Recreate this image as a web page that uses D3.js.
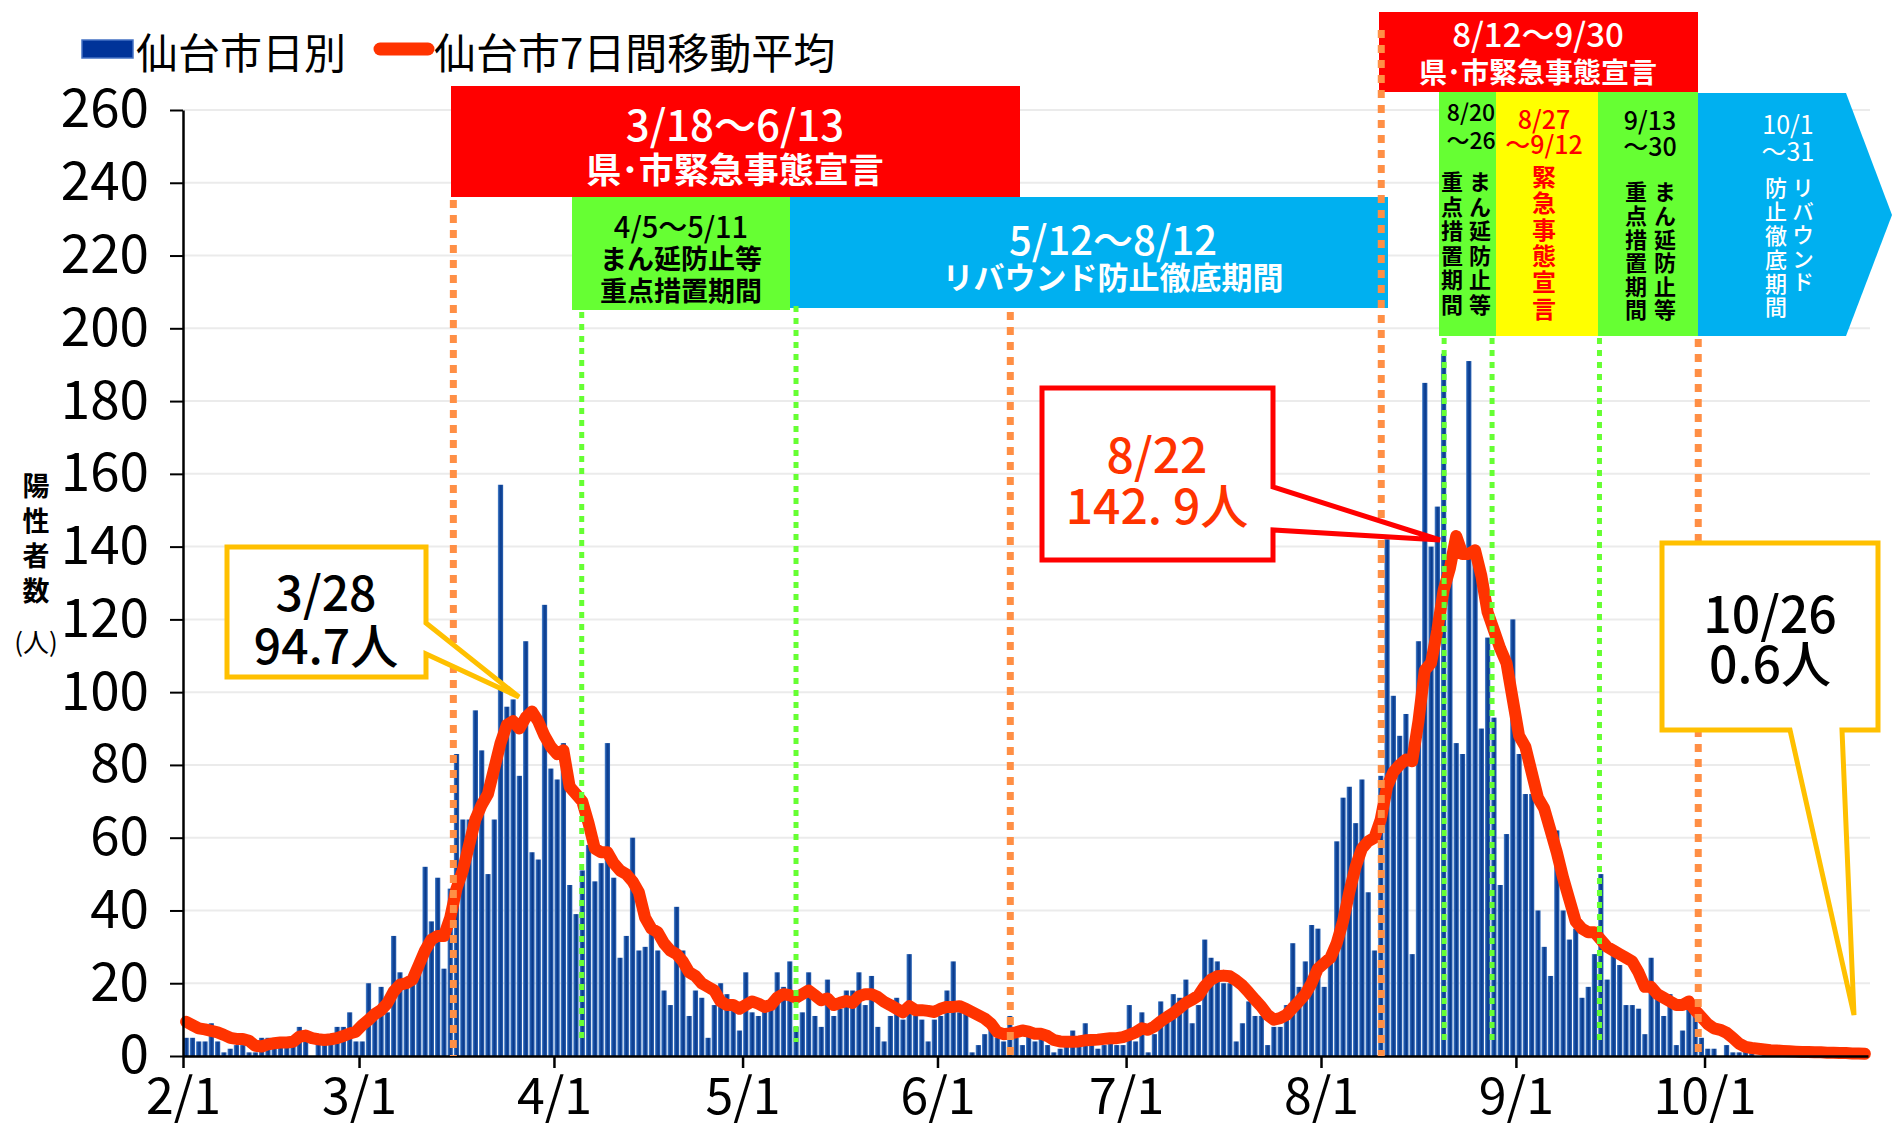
<!DOCTYPE html>
<html>
<head>
<meta charset="utf-8">
<title>仙台市 陽性者数</title>
<script src="https://cdn.jsdelivr.net/npm/d3@7"></script>
<style>
  body { margin: 0; background: #fff; }
  svg { display: block; font-family: "Noto Sans CJK JP", "Noto Sans", sans-serif; }
  .vert { writing-mode: vertical-rl; text-orientation: upright; }
</style>
</head>
<body>
<svg id="chart" width="1892" height="1132"></svg>
<script>
// daily positives, Sendai city
const dailyFeb = [5,5,4,4,9,4,1,2,3,3,1,1,5,5,4,4,4,3,8,4,0,5,5,4,8,8,12,4];
const dailyMar = [4,20,10,19,12,33,23,20,20,26,52,37,49,24,46,83,65,65,95,84,50,65,157,96,98,77,114,56,54,124,79];
const dailyApr = [76,86,47,39,51,58,48,53,86,49,27,33,60,29,30,35,29,18,14,41,29,11,18,16,5,14,20,17,14,7];
const dailyMay = [23,12,11,13,13,23,19,26,8,12,23,11,8,21,11,13,18,18,23,14,22,8,4,11,16,10,28,11,10,4,10];
const dailyJun = [11,18,26,12,12,1,3,6,8,5,4,11,5,3,6,4,5,3,1,2,3,7,3,9,3,2,3,4,3,3];
const dailyJul = [14,4,12,1,6,15,12,17,16,21,9,14,32,27,26,20,20,4,9,15,11,11,3,8,8,14,31,19,26,36,35];
const dailyAug = [19,28,59,71,74,64,76,45,29,77,142,99,88,94,28,114,185,140,151,193,131,86,83,191,140,90,115,93,47,61,120];
const dailySep = [83,72,72,40,30,22,62,40,32,35,16,19,28,50,21,28,25,14,14,13,6,27,16,11,17,3,7,15,11,5];
const dailyOct = [2,2,0,3,1,1,2,1,0,1,0,2,1,0,1,0,1,0,1,2,0,0,1,0,0,1];

// 7-day moving average
const maFeb = [9.4,8.5,7.6,7.3,6.9,6.5,5.8,5.0,4.7,4.7,4.2,2.8,2.6,3.2,3.5,3.7,3.7,3.9,5.3,5.6,4.9,4.6,4.4,4.6,4.9,5.5,6.2,6.7];
const maMar = [8.5,9.9,11.5,12.6,14.5,17.7,19.6,20,21,25,29,32,33,33,38,46,51,58,65,69,72,79,86,91,92,90,93,94.7,92,88,85];
const maApr = [83,84,74,72,70,64,57,56,56,53,51,50,48,45,38,35,34,31,29,28,26,23,22,20,19,18,15,14,14,13];
const maMay = [14,15,14.4,13.5,14,16,17,16.7,16,17,18,16.7,15.3,15.8,14,14.6,15.1,14.6,16.4,17,17,16.2,14.9,14,13,12,13.7,12.6,12.6,12.4,12.1];
const maJun = [13,13.5,13.5,13.7,13,12.1,11.2,10.3,8.9,6.6,6,6.2,6.5,7,6.7,6.1,6.1,5.5,4.4,4,3.9,3.9,4,4.3,4.4,4.5,4.7,4.9,4.9,5.2];
const maJul = [5.8,6.5,7.6,7.2,8.1,9.5,10.7,11.8,13.2,14.6,15.5,16.6,19.2,21,21.9,22.1,21.9,20.8,19.4,17.5,15.5,13.6,11.3,10,10.4,11.3,13.2,15,17,20,24];
const maAug = [25.5,27,31,37,45,52,57,59,60,65,74,78,80,81.5,81,92,106,108,117,128,134,142.9,138,138,139,132,122,117,112,108,98];
const maSep = [88,85,78,71,68,62,56,49,43,37,35,34,34,32,30,29,28,27,26,23,19,19,17,16,15,14,14,15,12.6,10.7];
const maOct = [8.8,7.6,7.2,6.4,5,3.4,2.5,2.2,2,1.8,1.6,1.5,1.4,1.3,1.2,1.1,1.1,1.0,1.0,0.9,0.9,0.8,0.8,0.7,0.7,0.6];

const tickLabels = ['2/1','3/1','4/1','5/1','6/1','7/1','8/1','9/1','10/1'];
const yTicks = [0,20,40,60,80,100,120,140,160,180,200,220,240,260];

// dotted marker lines (positions)
const orangeMarks = [new Date(2021,2,16,0), new Date(2021,5,12,14), new Date(2021,7,10,14), new Date(2021,8,30,0)];
const orangeTops = [200, 312, 30, 339];
const greenMarks = [new Date(2021,3,5,10), new Date(2021,4,9,12), new Date(2021,7,20,14), new Date(2021,7,28,5), new Date(2021,8,14,7)];
const greenTops = [312, 306, 338, 338, 338];

const days = d3.timeDay.range(new Date(2021,1,1), new Date(2021,9,27));
const daily = [].concat(dailyFeb, dailyMar, dailyApr, dailyMay, dailyJun, dailyJul, dailyAug, dailySep, dailyOct);
const ma = [].concat(maFeb, maMar, maApr, maMay, maJun, maJul, maAug, maSep, maOct);
const rows = days.map((d, i) => ({date: d, value: daily[i], avg: ma[i]}));

const svg = d3.select('#chart');
const plotLeft = 183, plotRight = 1868, plotTop = 110, plotBottom = 1056;

const x = d3.scaleTime().domain([new Date(2021,1,1), new Date(2021,9,27)]).range([plotLeft, plotRight]);
const y = d3.scaleLinear().domain([0, 260]).range([plotBottom, plotTop]);
const dayW = x(new Date(2021,1,2)) - x(new Date(2021,1,1));

const defs = svg.append('defs');
const grad = defs.append('linearGradient').attr('id', 'barGrad').attr('x1', 0).attr('x2', 1).attr('y1', 0).attr('y2', 0);
grad.append('stop').attr('offset', '0%').attr('stop-color', '#5a8fd2');
grad.append('stop').attr('offset', '25%').attr('stop-color', '#1d55a8');
grad.append('stop').attr('offset', '60%').attr('stop-color', '#08388a');
grad.append('stop').attr('offset', '100%').attr('stop-color', '#2f68b8');

// gridlines
svg.append('g')
  .selectAll('line')
  .data(yTicks.slice(1))
  .enter().append('line')
  .attr('x1', plotLeft).attr('x2', plotRight + 2)
  .attr('y1', d => y(d)).attr('y2', d => y(d))
  .attr('stroke', '#ebebeb').attr('stroke-width', 2);

// bars
svg.append('g')
  .selectAll('rect')
  .data(rows)
  .enter().append('rect')
  .attr('x', d => x(d.date) + dayW * 0.08)
  .attr('width', dayW * 0.84)
  .attr('y', d => y(d.value))
  .attr('height', d => plotBottom - y(d.value))
  .attr('fill', 'url(#barGrad)');

// moving average
const line = d3.line()
  .x(d => x(d.date) + dayW / 2)
  .y(d => y(d.avg));

svg.append('path')
  .datum(rows)
  .attr('d', line)
  .attr('fill', 'none')
  .attr('stroke', '#ff3300')
  .attr('stroke-width', 12)
  .attr('stroke-linejoin', 'round')
  .attr('stroke-linecap', 'round');

// axes
const yAxis = svg.append('g')
  .attr('transform', `translate(${plotLeft},0)`)
  .call(d3.axisLeft(y).tickValues(yTicks).tickSize(13).tickSizeOuter(0).tickPadding(21));
yAxis.select('.domain').attr('stroke', '#000').attr('stroke-width', 2.5);
yAxis.selectAll('.tick line').attr('stroke', '#000').attr('stroke-width', 2);
yAxis.selectAll('text').attr('font-size', 53).attr('fill', '#000')
  .attr('font-family', '"Noto Sans CJK JP", sans-serif');

const monthStarts = d3.timeMonth.range(new Date(2021,1,1), new Date(2021,9,2));
const xAxis = svg.append('g')
  .attr('transform', `translate(0,${plotBottom})`)
  .call(d3.axisBottom(x).tickValues(monthStarts).tickFormat((d, i) => tickLabels[i])
    .tickSize(12).tickSizeOuter(0).tickPadding(10));
xAxis.select('.domain').attr('stroke', '#000').attr('stroke-width', 2.5);
xAxis.selectAll('.tick line').attr('stroke', '#000').attr('stroke-width', 2.5);
xAxis.selectAll('text').attr('font-size', 50).attr('fill', '#000')
  .attr('font-family', '"Noto Sans CJK JP", sans-serif');

// text helpers
function label(g, lines, cx, cy, gap, size, color, weight) {
  const t = g.append('text').attr('text-anchor', 'middle')
    .attr('font-size', size).attr('fill', color).attr('font-weight', weight || 400);
  [].concat(lines).forEach((s, i) => {
    t.append('tspan').attr('x', cx).attr('y', cy + i * gap)
      .attr('dominant-baseline', 'central').text(s);
  });
  return t;
}
function vlabel(g, txt, cx, cy0, step, size, color, weight) {
  return g.append('text').attr('class', 'vert')
    .attr('x', cx).attr('y', cy0 - size / 2)
    .attr('font-size', size).attr('fill', color).attr('font-weight', weight || 400)
    .attr('letter-spacing', step - size)
    .text(txt);
}

// y title
const yTitle = svg.append('g');
vlabel(yTitle, '陽性者数', 36, 486, 35, 27, '#000', 700);
label(yTitle, '(人)', 36, 640, 0, 26, '#000', 400);

// legend
svg.append('rect').attr('x', 82).attr('y', 40).attr('width', 51).attr('height', 18)
  .attr('fill', '#003399').attr('stroke', '#4472c4').attr('stroke-width', 1.5);
svg.append('text').attr('x', 136).attr('y', 50).attr('dominant-baseline', 'central')
  .attr('font-size', 42).text('仙台市日別');
svg.append('line').attr('x1', 380).attr('x2', 428).attr('y1', 49).attr('y2', 49)
  .attr('stroke', '#ff3300').attr('stroke-width', 13).attr('stroke-linecap', 'round');
svg.append('text').attr('x', 434).attr('y', 50).attr('dominant-baseline', 'central')
  .attr('font-size', 42).text('仙台市7日間移動平均');

// period boxes
const ann = svg.append('g');
function box(x0, y0, w, h, fill) {
  ann.append('rect').attr('x', x0).attr('y', y0).attr('width', w).attr('height', h).attr('fill', fill);
}

box(451, 86, 569, 111, '#ff0000');
label(ann, '3/18～6/13', 735, 122, 0, 42, '#fff', 500);
label(ann, '県･市緊急事態宣言', 735, 167, 0, 35, '#fff', 700);

box(572, 197, 218, 113, '#66ff33');
label(ann, '4/5～5/11', 681, 225, 0, 29, '#000', 500);
label(ann, ['まん延防止等', '重点措置期間'], 681, 257, 32, 27, '#000', 700);

box(790, 197, 598, 111, '#00b0f0');
label(ann, '5/12～8/12', 1113, 238, 0, 40, '#fff', 500);
label(ann, 'リバウンド防止徹底期間', 1113, 275, 0, 31, '#fff', 700);

box(1379, 12, 319, 80, '#ff0000');
label(ann, '8/12～9/30', 1538, 33, 0, 33, '#fff', 500);
label(ann, '県･市緊急事態宣言', 1538, 71, 0, 28, '#fff', 700);

box(1439, 92, 57, 244, '#66ff33');
label(ann, ['8/20', '～26'], 1471, 111, 28, 23, '#000', 500);
vlabel(ann, 'まん延防止等', 1480, 182, 24.5, 22, '#000', 700);
vlabel(ann, '重点措置期間', 1452, 182, 24.5, 22, '#000', 700);

box(1496, 92, 102, 244, '#ffff00');
label(ann, ['8/27', '～9/12'], 1544, 118, 25, 25, '#ff0000', 500);
vlabel(ann, '緊急事態宣言', 1544, 177, 26.3, 24, '#ff0000', 700);

box(1598, 92, 100, 244, '#66ff33');
label(ann, ['9/13', '～30'], 1650, 119, 26, 25, '#000', 500);
vlabel(ann, 'まん延防止等', 1665, 192, 23.6, 22, '#000', 700);
vlabel(ann, '重点措置期間', 1636, 192, 23.6, 22, '#000', 700);

ann.append('polygon').attr('points', '1698,93 1846,93 1892,215 1846,336 1698,336').attr('fill', '#00b0f0');
label(ann, ['10/1', '～31'], 1788, 123, 27, 25, '#fff', 400);
vlabel(ann, 'リバウンド', 1803, 188, 23.5, 22, '#fff', 500);
vlabel(ann, '防止徹底期間', 1776, 188, 23.8, 22, '#fff', 500);

// dotted marker lines
svg.append('g').selectAll('line')
  .data(orangeMarks)
  .enter().append('line')
  .attr('x1', d => x(d)).attr('x2', d => x(d))
  .attr('y1', (d, i) => orangeTops[i]).attr('y2', plotBottom)
  .attr('stroke', '#ff8f45').attr('stroke-width', 7).attr('stroke-dasharray', '8 7');

svg.append('g').selectAll('line')
  .data(greenMarks)
  .enter().append('line')
  .attr('x1', d => x(d)).attr('x2', d => x(d))
  .attr('y1', (d, i) => greenTops[i]).attr('y2', 1042)
  .attr('stroke', '#66ff33').attr('stroke-width', 5).attr('stroke-dasharray', '6 6');

// callouts
const co = svg.append('g');
co.append('polygon')
  .attr('points', '227,547 426,547 426,623 519,697 426,654 426,677 227,677')
  .attr('fill', '#fff').attr('stroke', '#ffc000').attr('stroke-width', 5);
label(co, ['3/28', '94.7人'], 326, 590, 53, 48, '#000', 500);

co.append('polygon')
  .attr('points', '1042,388 1273,388 1273,487 1440,540 1273,530 1273,560 1042,560')
  .attr('fill', '#fff').attr('stroke', '#ff0000').attr('stroke-width', 5);
label(co, ['8/22', '142. 9人'], 1157, 452, 51, 48, '#ff3300', 500);

co.append('polygon')
  .attr('points', '1662,543 1878,543 1878,730 1842,730 1854,1015 1790,730 1662,730')
  .attr('fill', '#fff').attr('stroke', '#ffc000').attr('stroke-width', 5);
label(co, ['10/26', '0.6人'], 1770, 611, 50, 50, '#000', 500);
</script>
</body>
</html>
